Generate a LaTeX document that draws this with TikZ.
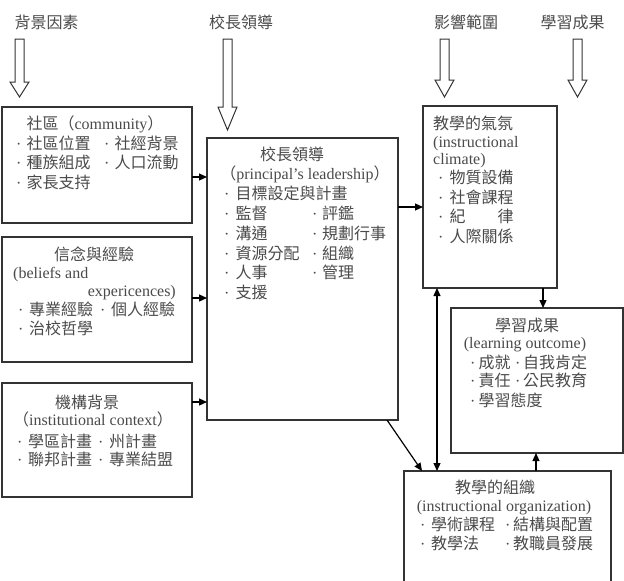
\documentclass[tikz,border=0pt]{standalone}
\usepackage{fontspec}
\setmainfont{Liberation Serif}
\newfontfamily\cjk{Noto Sans CJK TC}
\usetikzlibrary{arrows.meta}
\definecolor{txt}{HTML}{4a4a4a}
\definecolor{ln}{HTML}{333333}
\newcommand\bt[1][11.5pt]{\makebox[#1][l]{·}}
\newcommand\harrow[4]{\draw[hollow] (#1-4.5,#2) -- (#1+4.5,#2) -- (#1+4.5,#3) -- (#1+9.5,#3) -- (#1,#4) -- (#1-9.5,#3) -- (#1-4.5,#3) -- cycle;}
\begin{document}
\begin{tikzpicture}[x=1pt,y=-1pt,
 box/.style={draw=ln, line width=1.2pt, inner sep=0pt, outer sep=0pt, anchor=north west},
 tx/.style={inner sep=0pt, anchor=base west, text=txt, font=\fontsize{16}{19}\selectfont},
 tc/.style={tx, anchor=base},
 te/.style={tx, anchor=base east},
 arr/.style={-{Triangle[length=8pt,width=7pt]}, line width=1.2pt, draw=black},
 hollow/.style={draw=ln, line width=1pt, fill=white}]
\useasboundingbox (0,0) rectangle (624,581);

% headers
\node[tc] (h1) at (46.5,28) {\cjk 背景因素};
\node[tc] (h2) at (241,28) {\cjk 校長領導};
\node[tc] (h3) at (466,28) {\cjk 影響範圍};
\node[tc] (h4) at (572.5,28) {\cjk 學習成果};
\harrow{19.5}{39}{82}{97}
\harrow{227.5}{39}{107}{130}
\harrow{444.5}{39}{80}{97}
\harrow{577.5}{39}{80}{97}

% boxes
\node[box, minimum width=190pt, minimum height=116pt] (comm) at (2,107) {};
\node[box, minimum width=190pt, minimum height=125pt] (bel) at (2,237) {};
\node[box, minimum width=190pt, minimum height=114pt] (inst) at (2,383) {};
\node[box, minimum width=191pt, minimum height=282pt] (prin) at (207,138) {};
\node[box, minimum width=134pt, minimum height=182pt] (clim) at (423,106) {};
\node[box, minimum width=172pt, minimum height=145pt] (outc) at (451,308) {};
\node[box, draw=none, minimum width=207pt, minimum height=112pt] (org) at (404,471) {};
\draw[ln, line width=1.2pt] (org.south west) -- (org.north west) -- (org.north east) -- (org.south east);

% community
\node[tc] (c0) at (95,129) {{\cjk 社區（}community{\cjk ）}};
\node[tx] (c1) at (16,149) {\bt[10.5pt]\cjk 社區位置};
\node[tx] (c2) at (104,149) {\bt[10.5pt]\cjk 社經背景};
\node[tx] (c3) at (16,168) {\bt[10.5pt]\cjk 種族組成};
\node[tx] (c4) at (104,168) {\bt[10.5pt]\cjk 人口流動};
\node[tx] (c5) at (16,188) {\bt[10.5pt]\cjk 家長支持};

% beliefs
\node[tc] (b0) at (94,260) {\cjk 信念與經驗};
\node[tx] (b1) at (13,278) {(beliefs and};
\node[te] (b2) at (176,296) {expericences)};
\node[tx] (b3) at (18,315) {\bt[11pt]\cjk 專業經驗};
\node[tx] (b4) at (100,315) {\bt[11pt]\cjk 個人經驗};
\node[tx] (b5) at (18,334) {\bt[11pt]\cjk 治校哲學};

% institutional
\node[tc] (i0) at (87,408) {\cjk 機構背景};
\node[tc] (i1) at (93,425) {{\cjk （}institutional context{\cjk ）}};
\node[tx] (i2) at (17,447) {\bt[11pt]\cjk 學區計畫};
\node[tx] (i3) at (98,447) {\bt[11pt]\cjk 州計畫};
\node[tx] (i4) at (17,465) {\bt[11pt]\cjk 聯邦計畫};
\node[tx] (i5) at (98,465) {\bt[11pt]\cjk 專業結盟};

% principal
\node[tc] (p0) at (292,160) {\cjk 校長領導};
\node[tc] (p1) at (305,179) {{\cjk （}principal's leadership{\cjk ）}};
\node[tx] (p2) at (224,199) {\bt\cjk 目標設定與計畫};
\node[tx] (p3) at (224,219) {\bt\cjk 監督};
\node[tx] (p4) at (312,219) {\bt[10pt]\cjk 評鑑};
\node[tx] (p5) at (224,239) {\bt\cjk 溝通};
\node[tx] (p6) at (312,239) {\bt[10pt]\cjk 規劃行事};
\node[tx] (p7) at (224,259) {\bt\cjk 資源分配};
\node[tx] (p8) at (312,259) {\bt[10pt]\cjk 組織};
\node[tx] (p9) at (224,278) {\bt\cjk 人事};
\node[tx] (p10) at (312,278) {\bt[10pt]\cjk 管理};
\node[tx] (p11) at (224,298) {\bt\cjk 支援};

% climate
\node[tx] (k0) at (433,129) {\cjk 教學的氣氛};
\node[tx] (k1) at (433,147) {(instructional};
\node[tx] (k2) at (433,164) {climate)};
\node[tx] (k3) at (438,183) {\bt\cjk 物質設備};
\node[tx] (k4) at (438,203) {\bt\cjk 社會課程};
\node[tx] (k5) at (438,222) {\bt\cjk 紀　　律};
\node[tx] (k6) at (438,242) {\bt\cjk 人際關係};

% outcome
\node[tc] (o0) at (527,331) {\cjk 學習成果};
\node[tc] (o1) at (525,348) {(learning outcome)};
\node[tx] (o2) at (470,368) {\bt[8.5pt]\cjk 成就};
\node[tx] (o3) at (515,368) {\bt[8pt]\cjk 自我肯定};
\node[tx] (o4) at (470,386) {\bt[8.5pt]\cjk 責任};
\node[tx] (o5) at (515,386) {\bt[8pt]\cjk 公民教育};
\node[tx] (o6) at (470,406) {\bt[8.5pt]\cjk 學習態度};

% organization
\node[tc] (g0) at (495,493) {\cjk 教學的組織};
\node[tc] (g1) at (504,511) {(instructional organization)};
\node[tx] (g2) at (420,530) {\bt[11pt]\cjk 學術課程};
\node[tx] (g3) at (505,530) {\bt[8pt]\cjk 結構與配置};
\node[tx] (g4) at (420,549) {\bt[11pt]\cjk 教學法};
\node[tx] (g5) at (505,549) {\bt[8pt]\cjk 教職員發展};

% connectors
\coordinate (a1) at ([yshift=-12pt]comm.east);
\draw[arr] (a1) -- (a1 -| prin.west);
\coordinate (a2) at ([yshift=1.5pt]bel.east);
\draw[arr] (a2) -- (a2 -| prin.west);
\coordinate (a3) at ([yshift=38pt]inst.east);
\draw[arr] (a3) -- (a3 -| prin.west);
\coordinate (a4) at ([yshift=72pt]prin.east);
\draw[arr] (a4) -- (a4 -| clim.west);
\coordinate (a5) at ([xshift=53pt]clim.south);
\draw[arr] (a5) -- (a5 |- outc.north);
\coordinate (a6) at ([xshift=-53pt]clim.south);
\draw[arr, {Triangle[length=8pt,width=7pt]}-{Triangle[length=8pt,width=7pt]}] (a6 |- org.north) -- (a6);
\draw[arr] ([xshift=-11pt]prin.south east) -- ([xshift=18pt]org.north west);
\coordinate (a8) at ([xshift=28.5pt]org.north);
\draw[arr] (a8) -- (a8 |- outc.south);
\end{tikzpicture}
\end{document}
